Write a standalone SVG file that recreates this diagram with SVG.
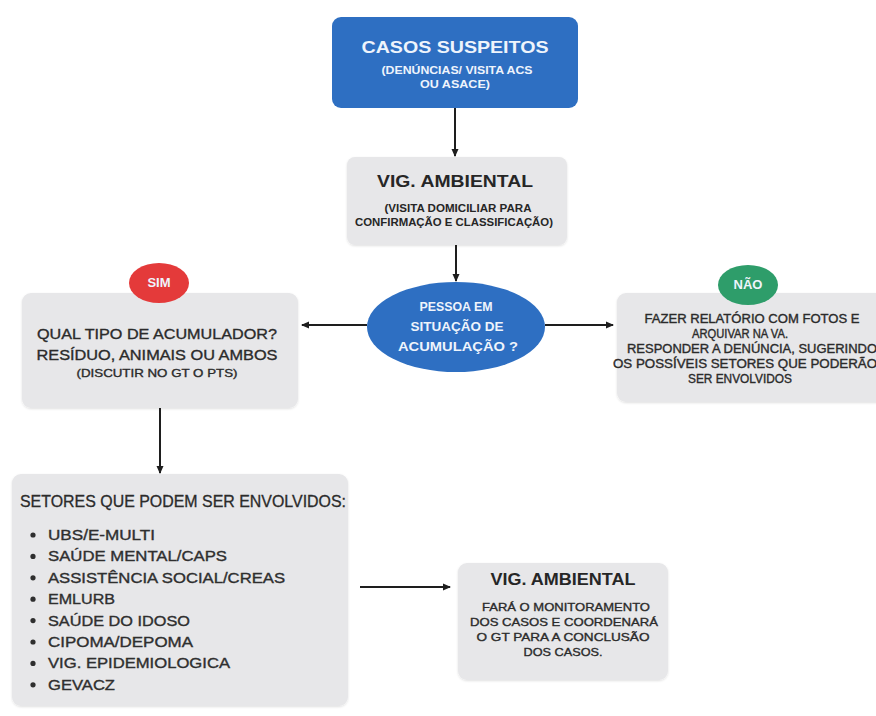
<svg xmlns="http://www.w3.org/2000/svg" width="876" height="716" viewBox="0 0 876 716">
<defs>
<marker id="ah" markerWidth="8" markerHeight="8" refX="7" refY="4" orient="auto" markerUnits="userSpaceOnUse">
<path d="M0,0.5 L8,4 L0,7.5 Z" fill="#1e1e1e"/>
</marker>
<filter id="sh" x="-5%" y="-5%" width="110%" height="115%">
<feDropShadow dx="0" dy="1" stdDeviation="1.2" flood-color="#000" flood-opacity="0.12"/>
</filter>
</defs>
<style>
text{font-family:"Liberation Sans",Arial,sans-serif;}
.box{fill:#e7e7e9;filter:url(#sh);}
.blue{fill:#2e6fc2;}
.w{fill:#eef4fc;font-weight:bold;text-anchor:middle;}
.d{fill:#2b2b2b;text-anchor:middle;stroke:#2b2b2b;stroke-width:0.35;}
.db{fill:#262626;font-weight:bold;text-anchor:middle;}
.li{fill:#2f2f2f;font-size:14px;stroke:#2f2f2f;stroke-width:0.35;}
.conn line{stroke:#1e1e1e;stroke-width:2;marker-end:url(#ah);}
</style>
<rect width="876" height="716" fill="#ffffff"/>

<g id="casos">
<rect x="332" y="17" width="246" height="91" rx="9" class="blue"/>
<text x="455" y="53" class="w" font-size="17" textLength="187" lengthAdjust="spacingAndGlyphs">CASOS SUSPEITOS</text>
<text x="457" y="74" class="w" font-size="10" textLength="151" lengthAdjust="spacingAndGlyphs">(DENÚNCIAS/ VISITA ACS</text>
<text x="455" y="88" class="w" font-size="10" textLength="70" lengthAdjust="spacingAndGlyphs">OU ASACE)</text>
</g>

<g id="vig1">
<rect x="347" y="157" width="220" height="88" rx="8" class="box"/>
<text x="455" y="187" class="db" font-size="17" textLength="156" lengthAdjust="spacingAndGlyphs">VIG. AMBIENTAL</text>
<text x="458" y="212" class="db" font-size="10" textLength="147" lengthAdjust="spacingAndGlyphs">(VISITA DOMICILIAR PARA</text>
<text x="454" y="226" class="db" font-size="10" textLength="198" lengthAdjust="spacingAndGlyphs">CONFIRMAÇÃO E CLASSIFICAÇÃO)</text>
</g>

<g id="pessoa">
<ellipse cx="456" cy="327" rx="89" ry="45" class="blue"/>
<text x="456" y="311" class="w" font-size="13" textLength="73" lengthAdjust="spacingAndGlyphs">PESSOA EM</text>
<text x="457" y="331" class="w" font-size="13" textLength="93" lengthAdjust="spacingAndGlyphs">SITUAÇÃO DE</text>
<text x="458" y="351" class="w" font-size="13" textLength="120" lengthAdjust="spacingAndGlyphs">ACUMULAÇÃO ?</text>
</g>

<g id="qual">
<rect x="22" y="293" width="276" height="115" rx="9" class="box"/>
<text x="157" y="339" class="d" font-size="15" textLength="240" lengthAdjust="spacingAndGlyphs">QUAL TIPO DE ACUMULADOR?</text>
<text x="157" y="360" class="d" font-size="15" textLength="241" lengthAdjust="spacingAndGlyphs">RESÍDUO, ANIMAIS OU AMBOS</text>
<text x="157" y="377" class="d" font-size="11" textLength="161" lengthAdjust="spacingAndGlyphs">(DISCUTIR NO GT O PTS)</text>
</g>

<g id="sim">
<ellipse cx="159" cy="283" rx="30" ry="20" fill="#e43a3a"/>
<text x="159" y="287" class="w" font-size="13" fill="#ffffff">SIM</text>
</g>

<g id="relatorio">
<rect x="617" y="293" width="275" height="109" rx="9" class="box"/>
<text x="752" y="323" class="d" font-size="12" textLength="215" lengthAdjust="spacingAndGlyphs">FAZER RELATÓRIO COM FOTOS E</text>
<text x="740" y="338" class="d" font-size="12" textLength="96" lengthAdjust="spacingAndGlyphs">ARQUIVAR NA VA.</text>
<text x="752" y="353" class="d" font-size="12" textLength="250" lengthAdjust="spacingAndGlyphs">RESPONDER A DENÚNCIA, SUGERINDO</text>
<text x="745" y="368" class="d" font-size="12" textLength="264" lengthAdjust="spacingAndGlyphs">OS POSSÍVEIS SETORES QUE PODERÃO</text>
<text x="740" y="383" class="d" font-size="12" textLength="104" lengthAdjust="spacingAndGlyphs">SER ENVOLVIDOS</text>
</g>

<g id="nao">
<ellipse cx="748" cy="285" rx="30" ry="20" fill="#2e9d6a"/>
<text x="748" y="289" class="w" font-size="13" fill="#ffffff">NÃO</text>
</g>

<g id="setores">
<rect x="12" y="474" width="336" height="232" rx="9" class="box"/>
<text x="20" y="507" fill="#2b2b2b" stroke="#2b2b2b" stroke-width="0.3" font-size="16" textLength="326" lengthAdjust="spacingAndGlyphs">SETORES QUE PODEM SER ENVOLVIDOS:</text>
<g fill="#2f2f2f">
<circle cx="33" cy="535" r="2.6"/><circle cx="33" cy="556.4" r="2.6"/><circle cx="33" cy="577.8" r="2.6"/><circle cx="33" cy="599.2" r="2.6"/>
<circle cx="33" cy="620.6" r="2.6"/><circle cx="33" cy="642" r="2.6"/><circle cx="33" cy="663.4" r="2.6"/><circle cx="33" cy="684.8" r="2.6"/>
</g>
<text x="48" y="540" class="li" textLength="107" lengthAdjust="spacingAndGlyphs">UBS/E-MULTI</text>
<text x="48" y="561.4" class="li" textLength="179" lengthAdjust="spacingAndGlyphs">SAÚDE MENTAL/CAPS</text>
<text x="48" y="582.8" class="li" textLength="237" lengthAdjust="spacingAndGlyphs">ASSISTÊNCIA SOCIAL/CREAS</text>
<text x="48" y="604.2" class="li" textLength="67" lengthAdjust="spacingAndGlyphs">EMLURB</text>
<text x="48" y="625.6" class="li" textLength="142" lengthAdjust="spacingAndGlyphs">SAÚDE DO IDOSO</text>
<text x="48" y="647" class="li" textLength="145" lengthAdjust="spacingAndGlyphs">CIPOMA/DEPOMA</text>
<text x="48" y="668.4" class="li" textLength="182" lengthAdjust="spacingAndGlyphs">VIG. EPIDEMIOLOGICA</text>
<text x="48" y="689.8" class="li" textLength="67" lengthAdjust="spacingAndGlyphs">GEVACZ</text>
</g>

<g id="vig2">
<rect x="458" y="563" width="210" height="117" rx="9" class="box"/>
<text x="563" y="585" class="db" font-size="16" textLength="145" lengthAdjust="spacingAndGlyphs">VIG. AMBIENTAL</text>
<text x="566" y="611" class="d" font-size="11.5" textLength="168" lengthAdjust="spacingAndGlyphs">FARÁ O MONITORAMENTO</text>
<text x="564" y="626" class="d" font-size="11.5" textLength="188" lengthAdjust="spacingAndGlyphs">DOS CASOS E COORDENARÁ</text>
<text x="563" y="641" class="d" font-size="11.5" textLength="173" lengthAdjust="spacingAndGlyphs">O GT PARA A CONCLUSÃO</text>
<text x="563" y="656" class="d" font-size="11.5" textLength="79" lengthAdjust="spacingAndGlyphs">DOS CASOS.</text>
</g>

<g id="connectors" class="conn">
<line x1="455" y1="108" x2="455" y2="156"/>
<line x1="456" y1="245" x2="456" y2="281"/>
<line x1="367" y1="325" x2="302" y2="325"/>
<line x1="545" y1="325" x2="613" y2="325"/>
<line x1="160" y1="408" x2="160" y2="473"/>
<line x1="360" y1="587" x2="450" y2="587"/>
</g>
</svg>
